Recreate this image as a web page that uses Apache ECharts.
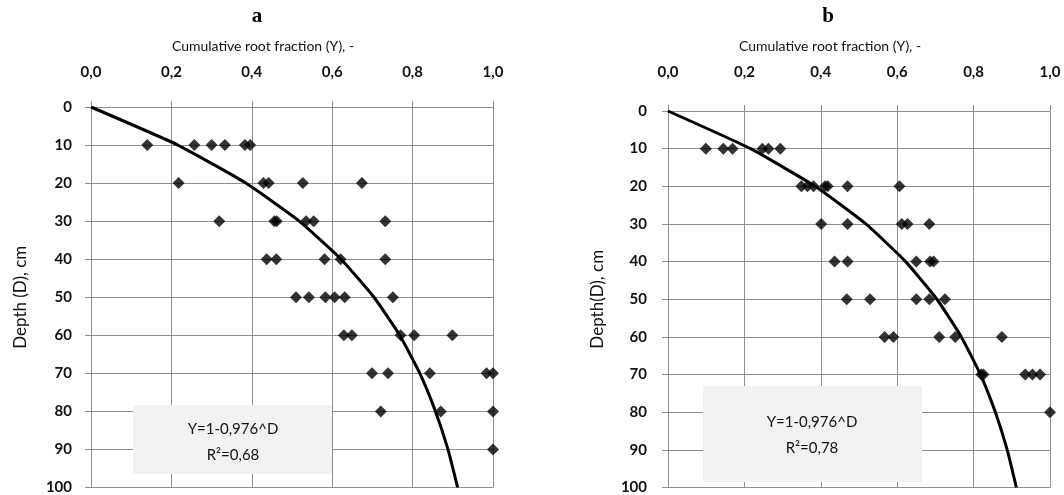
<!DOCTYPE html>
<html>
<head>
<meta charset="utf-8">
<script src="https://cdn.jsdelivr.net/npm/echarts@6/dist/echarts.min.js"></script>
<style>
html,body{margin:0;padding:0;background:#fff;}
#chart{width:1064px;height:495px;}
</style>
</head>
<body>
<div id="chart"></div>
<script>
// ---- Data ----
const xTicks = [0, 0.2, 0.4, 0.6, 0.8, 1.0];
const yTicks = [0, 10, 20, 30, 40, 50, 60, 70, 80, 90, 100];

// Panel a: observed cumulative root fraction (Y) at depth (D)
const depthA = [10,10,10,10,10,10, 20,20,20,20,20, 30,30,30,30,30,30, 40,40,40,40,40, 50,50,50,50,50,50, 60,60,60,60,60, 70,70,70,70,70, 80,80,80, 90];
const fracA  = [0.14,0.257,0.30,0.333,0.383,0.396, 0.218,0.429,0.442,0.527,0.674, 0.319,0.456,0.462,0.535,0.554,0.732, 0.437,0.461,0.581,0.621,0.732, 0.510,0.542,0.583,0.606,0.631,0.751, 0.629,0.649,0.770,0.804,0.899, 0.699,0.739,0.843,0.984,1.0, 0.721,0.870,1.0, 1.0];

// Panel b
const depthB = [10,10,10,10,10,10, 20,20,20,20,20,20,20, 30,30,30,30,30, 40,40,40,40,40, 50,50,50,50,50, 60,60,60,60,60, 70,70,70,70,70, 80];
const fracB  = [0.099,0.145,0.169,0.247,0.263,0.294, 0.349,0.365,0.381,0.411,0.418,0.470,0.606, 0.401,0.470,0.612,0.627,0.684, 0.436,0.470,0.650,0.686,0.695, 0.468,0.529,0.650,0.684,0.725, 0.567,0.590,0.710,0.752,0.874, 0.820,0.826,0.935,0.954,0.974, 1.0];

// Fitted curve Y = 1 - 0.976^D, values read at each 10 cm
const curveDepth = [0,10,20,30,40,50,60,70,80,90,100];
const curveFrac  = [0,0.216,0.385,0.518,0.622,0.704,0.768,0.818,0.857,0.888,0.912];

const panelTitles = ['a', 'b'];
const xAxisTitle = 'Cumulative root fraction (Y), -';
const yAxisTitles = ['Depth (D), cm', 'Depth(D), cm'];
const eqText = 'Y=1-0,976^D';
const r2Text = ['R\u00b2=0,68', 'R\u00b2=0,78'];

// ---- Chart ----
const FONT = 'Lato, "Open Sans", sans-serif';
const gridColor = '#8f8f8f';
const textColor = '#111';
const pairs = (xs, ys) => xs.map((x, i) => [x, ys[i]]);

const chart = echarts.init(document.getElementById('chart'), null, {renderer: 'canvas'});

function xAxisDef(gi, margin) {
  return {
    type: 'value', gridIndex: gi, position: 'top',
    min: xTicks[0], max: xTicks[xTicks.length - 1], interval: 0.2,
    axisLine: {show: true, lineStyle: {color: gridColor, width: 1}},
    axisTick: {show: true, length: 6, inside: false, lineStyle: {color: gridColor}},
    splitLine: {show: true, lineStyle: {color: gridColor, width: 1}},
    axisLabel: {
      margin: margin, fontFamily: FONT, fontSize: 15, fontWeight: 'bold', color: textColor,
      formatter: v => v.toFixed(1).replace('.', ',')
    }
  };
}
function yAxisDef(gi, name, nameGap, margin) {
  return {
    type: 'value', gridIndex: gi, inverse: true,
    min: yTicks[0], max: yTicks[yTicks.length - 1], interval: 10,
    name: name, nameLocation: 'middle', nameRotate: 90, nameGap: nameGap,
    nameTextStyle: {fontFamily: FONT, fontSize: 17, color: textColor},
    axisLine: {show: true, lineStyle: {color: gridColor, width: 1}},
    axisTick: {show: true, length: 6, lineStyle: {color: gridColor}},
    splitLine: {show: true, lineStyle: {color: gridColor, width: 1}},
    axisLabel: {margin: margin, fontFamily: FONT, fontSize: 15, fontWeight: 'bold', color: textColor}
  };
}

const option = {
  backgroundColor: '#ffffff',
  animation: false,
  title: [
    {text: panelTitles[0], left: 252, top: 1, textAlign: 'center',
     textStyle: {fontFamily: '"Liberation Serif", "DejaVu Serif", serif', fontSize: 21, fontWeight: 'bold', color: '#000'}},
    {text: panelTitles[1], left: 823, top: 1, textAlign: 'center',
     textStyle: {fontFamily: '"Liberation Serif", "DejaVu Serif", serif', fontSize: 21, fontWeight: 'bold', color: '#000'}},
    {text: xAxisTitle, left: 258, top: 34, textAlign: 'center',
     textStyle: {fontFamily: FONT, fontSize: 14, fontWeight: 'normal', color: textColor}},
    {text: xAxisTitle, left: 825, top: 34, textAlign: 'center',
     textStyle: {fontFamily: FONT, fontSize: 14, fontWeight: 'normal', color: textColor}}
  ],
  grid: [
    {left: 91, top: 107, width: 402, height: 383},
    {left: 668, top: 111, width: 382, height: 378}
  ],
  xAxis: [xAxisDef(0, 27), xAxisDef(1, 31)],
  yAxis: [yAxisDef(0, yAxisTitles[0], 62, 19), yAxisDef(1, yAxisTitles[1], 62, 21)],
  series: [
    {type: 'scatter', xAxisIndex: 0, yAxisIndex: 0, data: pairs(fracA, depthA),
     symbol: 'diamond', symbolSize: 12, itemStyle: {color: '#000'}, z: 3},
    {type: 'line', xAxisIndex: 0, yAxisIndex: 0, data: pairs(curveFrac, curveDepth),
     showSymbol: false, symbol: 'none', smooth: 0.15, lineStyle: {color: '#000', width: 3}, z: 4},
    {type: 'scatter', xAxisIndex: 1, yAxisIndex: 1, data: pairs(fracB, depthB),
     symbol: 'diamond', symbolSize: 12, itemStyle: {color: '#000'}, z: 3},
    {type: 'line', xAxisIndex: 1, yAxisIndex: 1, data: pairs(curveFrac, curveDepth),
     showSymbol: false, symbol: 'none', smooth: 0.15, lineStyle: {color: '#000', width: 3}, z: 4}
  ],
  graphic: [
    {type: 'rect', left: 133, top: 405, shape: {width: 199, height: 69}, style: {fill: '#f2f2f2'}, z: 10},
    {type: 'text', position: [233, 416], style: {text: eqText + '\n' + r2Text[0], fill: textColor, font: '15px ' + FONT, textAlign: 'center', lineHeight: 26}, z: 11},
    {type: 'rect', left: 703, top: 386, shape: {width: 219, height: 96}, style: {fill: '#f2f2f2'}, z: 10},
    {type: 'text', position: [812, 409], style: {text: eqText + '\n' + r2Text[1], fill: textColor, font: '15px ' + FONT, textAlign: 'center', lineHeight: 26}, z: 11}
  ]
};
chart.setOption(option);
</script>
</body>
</html>
